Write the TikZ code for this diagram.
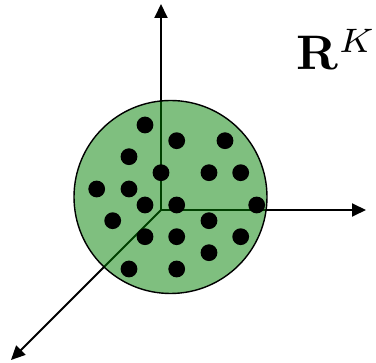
\documentclass[tikz,border=0pt]{standalone}
\usetikzlibrary{arrows.meta}
\definecolor{ballgreen}{RGB}{0,128,0}
\tikzset{
  axis/.style={line width=1.9pt, -{Triangle[length=14pt,width=13pt]}},
  ball/.style={circle, draw=black, line width=1.4pt, fill=ballgreen, fill opacity=0.5, draw opacity=1, minimum size=193pt, inner sep=0pt},
  pt/.style={circle, fill=black, minimum size=16.8pt, inner sep=0pt}
}
\begin{document}
\begin{tikzpicture}[x=1pt,y=-1pt]
\useasboundingbox (0,0) rectangle (376,363);
\coordinate (o) at (161,210);
\coordinate (up) at (161,4);
\coordinate (right) at (366,210);
\coordinate (down) at (11,360);
\draw[axis] (o) -- (up);
\draw[axis] (o) -- (right);
\draw[axis] (o) -- (down);
\node[ball] (b) at (170.5,197) {};
\foreach \x/\y [count=\i] in {145/125, 176.7/140.7, 225/140.7, 129/156.7, 161/172.7, 209/172.7, 240.7/172.7, 96.7/189, 129/189, 145/205, 176.7/205, 256.7/205, 112.7/220.7, 209/220.7, 145/236.7, 176.7/236.7, 240.7/236.7, 209/252.7, 129/269, 176.7/269}
  \node[pt] (p\i) at (\x,\y) {};
\node[anchor=base west, inner sep=0pt, scale=4.85] (lbl) at (296,70) {$\mathbf{R}^K$};
\end{tikzpicture}
\end{document}
